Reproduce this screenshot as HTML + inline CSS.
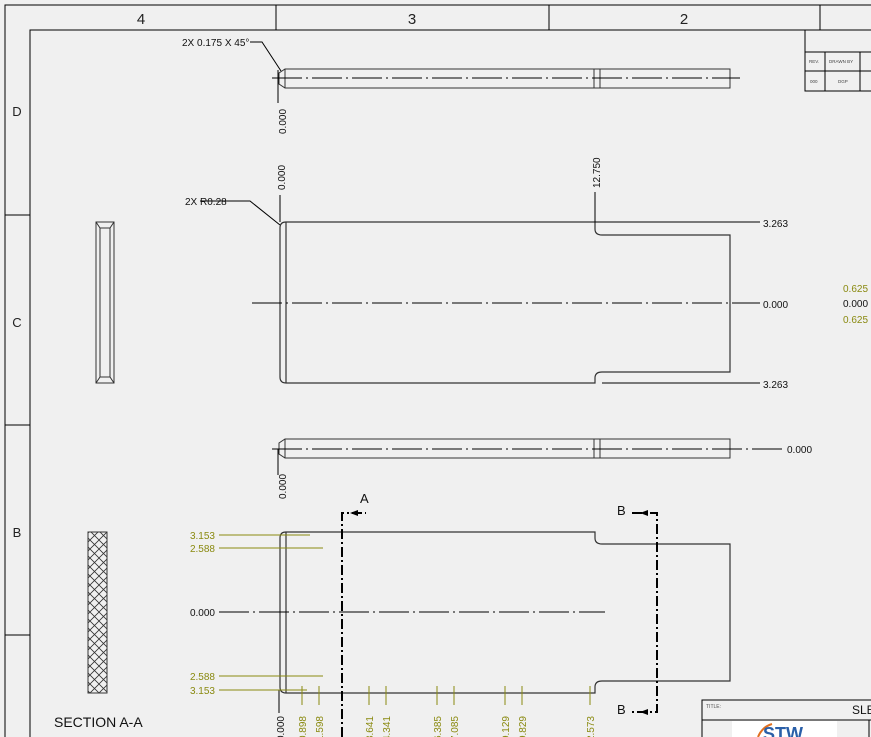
<!DOCTYPE html><html><head><style>body{margin:0;background:#f0f0f0}svg{display:block}</style></head><body>
<svg width="871" height="737" viewBox="0 0 871 737" xmlns="http://www.w3.org/2000/svg" font-family="Liberation Sans, sans-serif">
<rect width="871" height="737" fill="#f0f0f0"/>
<g stroke="#000" fill="none" stroke-width="1">
<path d="M5 737V5H871M30 737V30H871"/>
<path d="M276 5V30M549 5V30M820 5V30M5 215H30M5 425H30M5 635H30"/>
</g>
<g font-size="15" fill="#222" text-anchor="middle"><text x="141" y="24">4</text><text x="412" y="24">3</text><text x="684" y="24">2</text>
<text x="17" y="116" font-size="13">D</text><text x="17" y="327" font-size="13">C</text><text x="17" y="537" font-size="13">B</text></g>
<g stroke="#000" fill="none"><rect x="805" y="30" width="70" height="61"/><path d="M805 52H871M805 71H871M825 52V91M860 52V91"/></g>
<g font-size="4.5" fill="#444"><text x="809" y="63">REV.</text><text x="829" y="63">DRAWN BY</text><text x="810" y="83">000</text><text x="838" y="83">DGP</text></g>
<g stroke="#333" fill="none"><path d="M285 69H730V88H285L279 84V73Z"/><path d="M285 69V88M594 69V88M600 69V88"/></g>
<g stroke="#000" fill="none"><path d="M272 78H740" stroke-dasharray="30,4,2,4"/><path d="M278 70V103"/><path d="M250 42H262L281 71"/></g>
<text x="182" y="46" font-size="10" fill="#111">2X 0.175 X 45°</text>
<text transform="translate(286,134) rotate(-90)" font-size="10" fill="#111">0.000</text>
<g stroke="#333" fill="none" stroke-width="1.2">
<path d="M286 222H595V229Q595 235 602 235H730V372H602Q595 372 595 378V383H286Q280 383 280 377V228Q280 222 286 222Z"/>
<path d="M286 222V383"/></g>
<g stroke="#000" fill="none"><path d="M252 303H760" stroke-dasharray="30,4,2,4"/><path d="M595 192V222H760M602 383H760M280 195V222M200 201H250L280 225"/></g>
<g font-size="10" fill="#111"><text x="763" y="227">3.263</text><text x="763" y="308">0.000</text><text x="763" y="388">3.263</text><text x="185" y="205">2X R0.28</text></g>
<text transform="translate(600,188) rotate(-90)" font-size="10" fill="#111">12.750</text>
<text transform="translate(285,190) rotate(-90)" font-size="10" fill="#111">0.000</text>
<g font-size="10"><text x="843" y="292" fill="#8a8a10">0.625</text><text x="843" y="307" fill="#111">0.000</text><text x="843" y="323" fill="#8a8a10">0.625</text></g>
<g stroke="#333" fill="none"><path d="M285 439H730V458H285L279 454V443Z"/><path d="M285 439V458M594 439V458M600 439V458"/></g>
<g stroke="#000" fill="none"><path d="M272 449H785" stroke-dasharray="30,4,2,4"/><path d="M278 449V475"/></g>
<text x="787" y="453" font-size="10" fill="#111">0.000</text>
<text transform="translate(286,499) rotate(-90)" font-size="10" fill="#111">0.000</text>
<g stroke="#333" fill="none"><rect x="96" y="222" width="18" height="161"/><rect x="100" y="228" width="10" height="149"/><path d="M96 222L100 228M114 222L110 228M96 383L100 377M114 383L110 377"/></g>
<defs><pattern id="h" width="9" height="9" patternUnits="userSpaceOnUse"><path d="M0 0L9 9M9 0L0 9" stroke="#333" stroke-width="0.8"/></pattern></defs>
<rect x="88" y="532" width="19" height="161" fill="url(#h)" stroke="#333"/>
<text x="54" y="727" font-size="14" fill="#111">SECTION A-A</text>
<g stroke="#333" fill="none" stroke-width="1.2">
<path d="M286 532H595V538Q595 544 602 544H730V681H602Q595 681 595 687V693H286Q280 693 280 687V538Q280 532 286 532Z"/><path d="M286 532V693"/></g>
<g stroke="#000" fill="none"><path d="M219 612H605" stroke-dasharray="30,4,2,4"/><path d="M279 690V713"/></g>
<g stroke="#8a8a10" fill="none"><path d="M219 535H310M219 548H323M219 676H323M219 690H307"/>
<path d="M302 686V705M319 686V705M369 686V705M386 686V705M437 686V705M454 686V705M505 686V705M522 686V705M590 686V705"/></g>
<g font-size="10" fill="#8a8a10" text-anchor="end"><text x="215" y="539">3.153</text><text x="215" y="552">2.588</text><text x="215" y="680">2.588</text><text x="215" y="694">3.153</text></g>
<text x="215" y="616" font-size="10" fill="#111" text-anchor="end">0.000</text>
<g font-size="10" fill="#8a8a10" text-anchor="end">
<text transform="translate(284,716) rotate(-90)" fill="#111">10.000</text>
<text transform="translate(306,716) rotate(-90)">0.898</text><text transform="translate(323,716) rotate(-90)">1.598</text>
<text transform="translate(373,716) rotate(-90)">3.641</text><text transform="translate(390,716) rotate(-90)">4.341</text>
<text transform="translate(441,716) rotate(-90)">6.385</text><text transform="translate(458,716) rotate(-90)">7.085</text>
<text transform="translate(509,716) rotate(-90)">9.129</text><text transform="translate(526,716) rotate(-90)">9.829</text>
<text transform="translate(594,716) rotate(-90)">12.573</text></g>
<g stroke="#000" fill="none" stroke-width="2"><path d="M342 737V513H366" stroke-dasharray="10,3,2,3"/><path d="M632 513H657V712H632" stroke-dasharray="10,3,2,3"/></g>
<g fill="#000"><path d="M350 513l8-3v6z"/><path d="M640 513l8-3v6z"/><path d="M640 712l8-3v6z"/></g>
<g font-size="13" fill="#111"><text x="360" y="503">A</text><text x="617" y="515">B</text><text x="617" y="714">B</text></g>
<g stroke="#000" fill="none"><path d="M702 737V700H871M702 720H871M869 720V737"/></g>
<text x="706" y="708" font-size="5" fill="#555">TITLE:</text>
<text x="852" y="714" font-size="12" fill="#111">SLE</text>
<rect x="732" y="721" width="105" height="16" fill="#fff"/>
<path d="M758 737Q762 727 772 724" stroke="#e07020" stroke-width="2" fill="none"/>
<text x="763" y="740" font-size="18" font-weight="bold" fill="#2a5fa8">STW</text>
</svg></body></html>
